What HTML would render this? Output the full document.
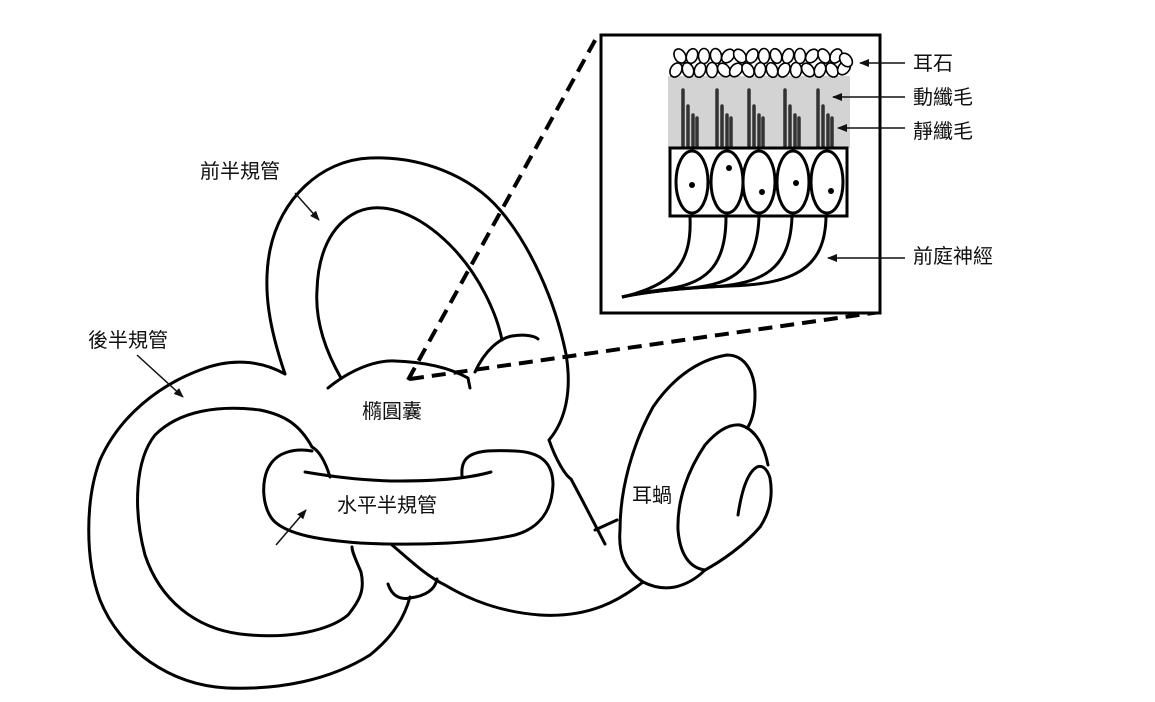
<!DOCTYPE html>
<html><head><meta charset="utf-8"><style>
html,body{margin:0;padding:0;background:#fff;}
svg{display:block}
text{font-family:"Liberation Sans","Noto Sans CJK TC",sans-serif;font-size:20px;fill:#111}
</style></head><body>
<svg width="1155" height="702" viewBox="0 0 1155 702" xmlns="http://www.w3.org/2000/svg">
<defs><marker id="a" markerWidth="10" markerHeight="8" refX="9" refY="4" orient="auto" markerUnits="userSpaceOnUse"><path d="M0,0 L10,4 L0,8 z" fill="#111"/></marker></defs>
<g fill="none" stroke="#000" stroke-width="3" stroke-linecap="round" stroke-linejoin="round">
<path d="M285,374 C270,330 262,290 270,250 C280,200 320,160 370,158 C420,156 470,175 500,210 C530,245 555,300 566,354 C572,390 566,420 549,440 C556,460 565,475 571,479 C585,505 595,525 605,544"/>
<path d="M341,378 C325,350 315,320 317,290 C318,255 330,225 357,212 C385,200 420,215 450,245 C480,275 497,315 502,340"/>
<path d="M328,388 C350,370 375,360 395,361 C425,362 450,368 468,378 L470,388"/>
<path d="M475,372 C485,350 500,338 512,336 C525,334 535,336 538,339"/>
<path d="M285,374 C260,360 230,358 200,370 C160,385 120,415 100,460 C85,500 85,560 100,600 C120,650 170,685 227,688 C280,690 330,680 370,655 C395,635 405,615 410,597"/>
<path d="M388,584 C392,596 400,600 410,598 C425,596 435,590 437,579"/>
<path d="M330,477 C325,460 318,450 312,447 C300,425 285,415 260,410 C220,405 180,410 155,435 C135,460 133,510 145,555 C160,600 195,628 240,634 C290,640 330,630 348,615 C360,600 365,590 361,572 C356,560 352,552 352,547"/>
<path d="M312,451 C295,448 278,452 270,465 C260,480 262,510 275,522 C290,535 320,540 360,543 C420,546 480,543 515,535 C540,528 552,510 553,485 C553,462 540,452 515,451 C490,450 470,450 464,462 C461,468 462,474 462,476"/>
<path d="M305,472 C340,478 370,481 400,481 C440,481 470,478 491,472"/>
<path d="M392,545 C410,560 425,575 445,585 C470,600 500,612 540,615 C590,618 620,600 643,582"/>
<path d="M595,530 L617,520"/>
<!-- cochlea -->
<path d="M643,582 C626,570 618,555 620,530 C620,490 632,445 653,407 C670,382 695,360 727,355 C745,355 755,372 755,395 C755,410 752,420 748,427"/>
<path d="M643,582 C655,588 665,589 675,587 C688,584 698,577 705,570"/>
<path d="M705,570 C690,568 680,555 678,530 C677,500 688,470 705,445 C718,430 730,424 740,425 C752,428 763,440 768,465"/>
<path d="M705,570 C720,562 745,545 760,527 C770,512 773,495 770,478 C767,468 762,465 757,467 C748,472 742,488 738,515"/>
</g>
<g stroke="#000" stroke-width="4" stroke-dasharray="14,8" fill="none">
<path d="M408,380 L598,35"/>
<path d="M410,379 L880,312"/>
</g>
<rect x="601" y="35" width="279" height="278" fill="#fff" stroke="#000" stroke-width="3"/>
<rect x="668" y="76" width="182" height="72" fill="#d3d3d3"/>
<g fill="#fff" stroke="#000" stroke-width="1.6">
<ellipse cx="676" cy="70" rx="5.5" ry="7.5" transform="rotate(30 676 70)"/>
<ellipse cx="688" cy="70" rx="5.5" ry="7.5" transform="rotate(-20 688 70)"/>
<ellipse cx="700" cy="70" rx="5.5" ry="7.5" transform="rotate(20 700 70)"/>
<ellipse cx="712" cy="70" rx="5.5" ry="7.5" transform="rotate(0 712 70)"/>
<ellipse cx="724" cy="70" rx="5.5" ry="7.5" transform="rotate(-40 724 70)"/>
<ellipse cx="736" cy="70" rx="5.5" ry="7.5" transform="rotate(40 736 70)"/>
<ellipse cx="748" cy="70" rx="5.5" ry="7.5" transform="rotate(-30 748 70)"/>
<ellipse cx="760" cy="70" rx="5.5" ry="7.5" transform="rotate(10 760 70)"/>
<ellipse cx="772" cy="70" rx="5.5" ry="7.5" transform="rotate(-20 772 70)"/>
<ellipse cx="784" cy="70" rx="5.5" ry="7.5" transform="rotate(30 784 70)"/>
<ellipse cx="796" cy="70" rx="5.5" ry="7.5" transform="rotate(0 796 70)"/>
<ellipse cx="808" cy="70" rx="5.5" ry="7.5" transform="rotate(-40 808 70)"/>
<ellipse cx="820" cy="70" rx="5.5" ry="7.5" transform="rotate(20 820 70)"/>
<ellipse cx="832" cy="70" rx="5.5" ry="7.5" transform="rotate(-30 832 70)"/>
<ellipse cx="844" cy="68" rx="5.5" ry="7.5" transform="rotate(40 844 68)"/>
<ellipse cx="680" cy="56" rx="5.5" ry="7.5" transform="rotate(-30 680 56)"/>
<ellipse cx="692" cy="56" rx="5.5" ry="7.5" transform="rotate(20 692 56)"/>
<ellipse cx="704" cy="56" rx="5.5" ry="7.5" transform="rotate(0 704 56)"/>
<ellipse cx="716" cy="56" rx="5.5" ry="7.5" transform="rotate(-10 716 56)"/>
<ellipse cx="728" cy="56" rx="5.5" ry="7.5" transform="rotate(40 728 56)"/>
<ellipse cx="740" cy="56" rx="5.5" ry="7.5" transform="rotate(-40 740 56)"/>
<ellipse cx="752" cy="56" rx="5.5" ry="7.5" transform="rotate(30 752 56)"/>
<ellipse cx="764" cy="56" rx="5.5" ry="7.5" transform="rotate(0 764 56)"/>
<ellipse cx="776" cy="56" rx="5.5" ry="7.5" transform="rotate(-20 776 56)"/>
<ellipse cx="788" cy="56" rx="5.5" ry="7.5" transform="rotate(20 788 56)"/>
<ellipse cx="800" cy="56" rx="5.5" ry="7.5" transform="rotate(0 800 56)"/>
<ellipse cx="812" cy="56" rx="5.5" ry="7.5" transform="rotate(40 812 56)"/>
<ellipse cx="824" cy="56" rx="5.5" ry="7.5" transform="rotate(-30 824 56)"/>
<ellipse cx="836" cy="56" rx="5.5" ry="7.5" transform="rotate(30 836 56)"/>
<ellipse cx="846" cy="60" rx="5.5" ry="7.5" transform="rotate(-40 846 60)"/>
</g>
<g stroke="#333" stroke-width="3.5" stroke-linecap="round">
<path d="M683,90V147M688,106V147M693,115V147M697,118V147"/>
<path d="M717,90V147M722,106V147M727,115V147M731,118V147"/>
<path d="M749,90V147M754,106V147M759,115V147M763,118V147"/>
<path d="M785,90V147M790,106V147M795,115V147M799,118V147"/>
<path d="M818,90V147M823,106V147M828,115V147M832,118V147"/>
</g>
<rect x="670" y="148" width="177" height="68" fill="#fff" stroke="#000" stroke-width="3"/>
<g fill="none" stroke="#000" stroke-width="3">
<ellipse cx="692" cy="182" rx="16" ry="31"/>
<ellipse cx="727" cy="182" rx="16" ry="31"/>
<ellipse cx="759" cy="182" rx="16" ry="31"/>
<ellipse cx="793" cy="182" rx="16" ry="31"/>
<ellipse cx="827" cy="182" rx="16" ry="31"/>
<path d="M690,217 C692,262 675,285 622,297"/>
<path d="M726,217 C726,268 705,285 660,290 C645,292 635,294 622,297"/>
<path d="M759,217 C757,268 735,284 690,288 C665,290 640,293 622,297"/>
<path d="M792,217 C790,268 765,284 710,287 C670,289 640,293 622,297"/>
<path d="M826,217 C825,268 795,284 730,286 C680,288 645,292 622,297"/>
</g>
<g fill="#000"><circle cx="692" cy="185" r="3"/><circle cx="729" cy="168" r="3"/><circle cx="762" cy="192" r="3"/><circle cx="796" cy="183" r="3"/><circle cx="831" cy="191" r="3"/></g>
<g stroke="#111" stroke-width="1.5" marker-end="url(#a)">
<line x1="905" y1="63" x2="860" y2="63"/>
<line x1="905" y1="97" x2="833" y2="97"/>
<line x1="905" y1="128" x2="838" y2="128"/>
<line x1="905" y1="258" x2="828" y2="258"/>
<line x1="295" y1="193" x2="319" y2="220"/>
<line x1="137" y1="355" x2="183" y2="397"/>
<line x1="276" y1="545" x2="306" y2="510"/>
</g>
<text x="913" y="70">耳石</text>
<text x="913" y="104">動纖毛</text>
<text x="913" y="138">靜纖毛</text>
<text x="913" y="263">前庭神經</text>
<text x="200" y="178">前半規管</text>
<text x="88" y="347">後半規管</text>
<text x="362" y="418">橢圓囊</text>
<text x="337" y="512">水平半規管</text>
<text x="632" y="502">耳蝸</text>
</svg>
</body></html>
